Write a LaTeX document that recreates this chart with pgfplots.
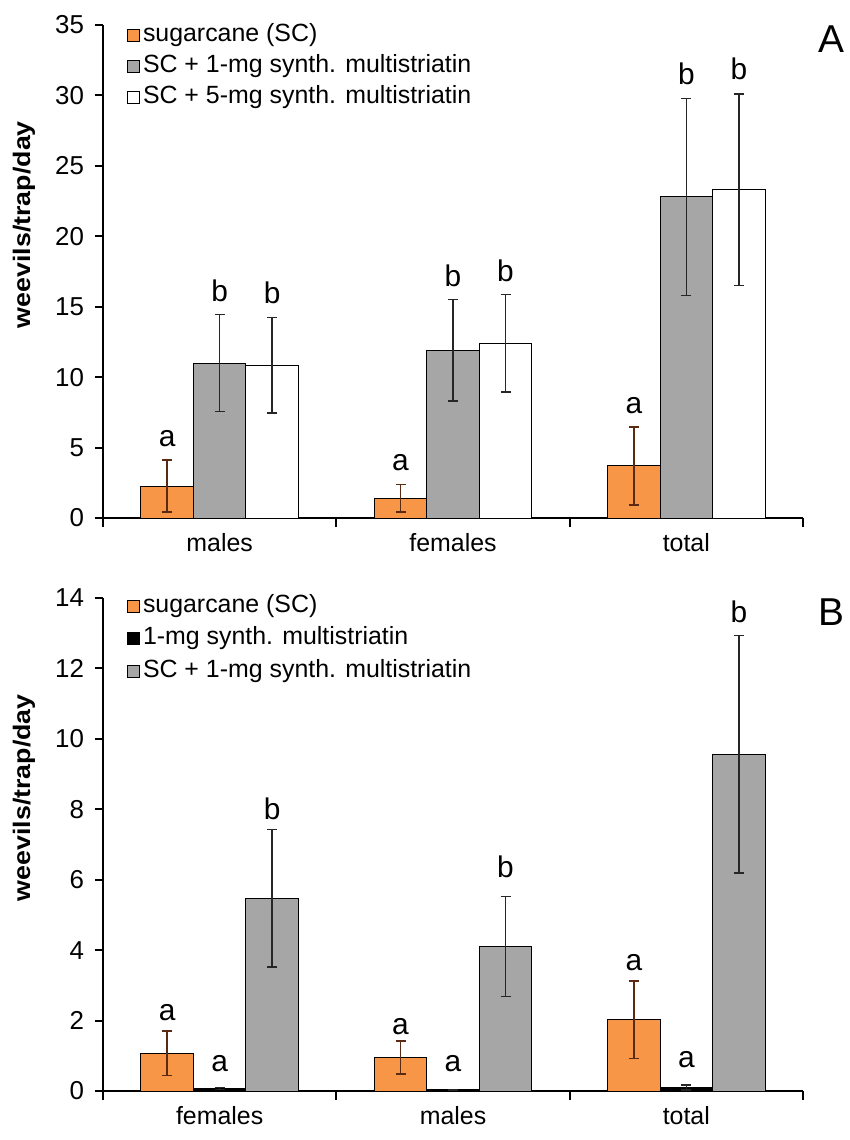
\documentclass[border=0pt]{standalone}
\usepackage{fontspec}
\setmainfont{Liberation Sans}
\usepackage{graphicx}
\usepackage{pgfplots}
\pgfplotsset{compat=1.18}
\definecolor{scor}{HTML}{F79646}
\definecolor{scgr}{HTML}{A6A6A6}
\definecolor{errbr}{HTML}{5A2A12}

\tikzset{letter/.style={anchor=base, font=\fontsize{15}{17}\selectfont}}
\pgfplotsset{panel/.style={
  width=350bp, height=246.5bp, scale only axis,
  xmin=-0.5, xmax=2.5, ymin=0,
  axis x line*=bottom, axis y line*=left,
  axis line style={line width=1bp, -},
  ybar, bar width=0.225,
  xtick={0,1,2}, major x tick style={draw=none},
  minor xtick={-0.5,0.5,1.5,2.5},
  tick align=outside, major tick length=4bp, minor tick length=4.5bp,
  every tick/.append style={black, line width=1bp},
  /pgf/number format/assume math mode=true,
  yticklabel style={font=\fontsize{13}{15}\selectfont, xshift=-2bp},
  xticklabel style={font=\fontsize{12.5}{14}\selectfont},
  ylabel={\scalebox{1.12}[1]{weevils/trap/day}},
  ylabel style={font=\bfseries\fontsize{12}{14}\selectfont, anchor=center,
    at={(axis description cs:-0.113,0.595)}},
  legend cell align=left,
  legend image code/.code={\draw[#1, line width=0.5bp] (-1.5bp,-3bp) rectangle (4.5bp,3bp);},
  legend style={at={(axis description cs:0,1)}, anchor=north west, draw=none, fill=none,
    xshift=12bp, yshift=2bp, inner sep=0pt, outer sep=0pt,
    font=\fontsize{12.5}{14}\selectfont,
    nodes={inner sep=1.5bp, text height=8.5bp, text depth=2.5bp}, row sep=1.5bp},
  every axis plot/.append style={draw=black, line width=0.5bp},
  error bars/error bar style={line width=0.7bp, black!85},
  error bars/error mark options={line width=0.7bp, mark size=2.5bp, rotate=90},
}}

\begin{document}
\begin{tikzpicture}
\useasboundingbox (0,0) rectangle (425bp,-570bp);

% panel A
\begin{axis}[panel, at={(51.5bp,-259bp)}, anchor=south west,
  ymax=35, ytick={0,5,...,35},
  xticklabels={males,females,total}]
\addplot[fill=scor, bar shift=-0.225, error bars/.cd, y dir=both, y explicit,
  error bar style={errbr}]
  coordinates {(0,2.27) +- (0,1.85) (1,1.42) +- (0,0.98) (2,3.70) +- (0,2.77)};
\addlegendentry{sugarcane (SC)}
\addplot[fill=scgr, bar shift=0, error bars/.cd, y dir=both, y explicit]
  coordinates {(0,11.0) +- (0,3.45) (1,11.9) +- (0,3.6) (2,22.8) +- (0,7.0)};
\addlegendentry{SC + 1-mg synth. multistriatin}
\addplot[fill=white, bar shift=0.225, error bars/.cd, y dir=both, y explicit]
  coordinates {(0,10.85) +- (0,3.4) (1,12.4) +- (0,3.45) (2,23.3) +- (0,6.8)};
\addlegendentry{SC + 5-mg synth. multistriatin}
\node[letter] at (axis cs:-0.225,5.05) {a};
\node[letter] at (axis cs:0,15.4) {b};
\node[letter] at (axis cs:0.225,15.2) {b};
\node[letter] at (axis cs:0.775,3.35) {a};
\node[letter] at (axis cs:1,16.45) {b};
\node[letter] at (axis cs:1.225,16.8) {b};
\node[letter] at (axis cs:1.775,7.4) {a};
\node[letter] at (axis cs:2,30.8) {b};
\node[letter] at (axis cs:2.225,31.1) {b};
\end{axis}
\node[font=\fontsize{19.5}{22}\selectfont] at (415.5bp,-19.5bp) {A};

% panel B
\begin{axis}[panel, at={(51.5bp,-545.5bp)}, anchor=south west,
  ymax=14, ytick={0,2,...,14},
  xticklabels={females,males,total},
  legend style={row sep=2.25bp, yshift=1bp}]
\addplot[fill=scor, bar shift=-0.225, error bars/.cd, y dir=both, y explicit,
  error bar style={errbr}]
  coordinates {(0,1.07) +- (0,0.63) (1,0.95) +- (0,0.47) (2,2.02) +- (0,1.1)};
\addlegendentry{sugarcane (SC)}
\addplot[fill=black, bar shift=0, error bars/.cd, y dir=both, y explicit]
  coordinates {(0,0.07) +- (0,0.03) (1,0.04) +- (0,0.01) (2,0.10) +- (0,0.07)};
\addlegendentry{1-mg synth. multistriatin}
\addplot[fill=scgr, bar shift=0.225, error bars/.cd, y dir=both, y explicit]
  coordinates {(0,5.47) +- (0,1.95) (1,4.10) +- (0,1.42) (2,9.56) +- (0,3.37)};
\addlegendentry{SC + 1-mg synth. multistriatin}
\node[letter] at (axis cs:-0.225,1.99) {a};
\node[letter] at (axis cs:0,0.56) {a};
\node[letter] at (axis cs:0.225,7.70) {b};
\node[letter] at (axis cs:0.775,1.61) {a};
\node[letter] at (axis cs:1,0.56) {a};
\node[letter] at (axis cs:1.225,6.07) {b};
\node[letter] at (axis cs:1.775,3.41) {a};
\node[letter] at (axis cs:2,0.67) {a};
\node[letter] at (axis cs:2.225,13.31) {b};
\end{axis}
\node[font=\fontsize{19.5}{22}\selectfont] at (415.5bp,-306bp) {B};
\end{tikzpicture}
\end{document}
